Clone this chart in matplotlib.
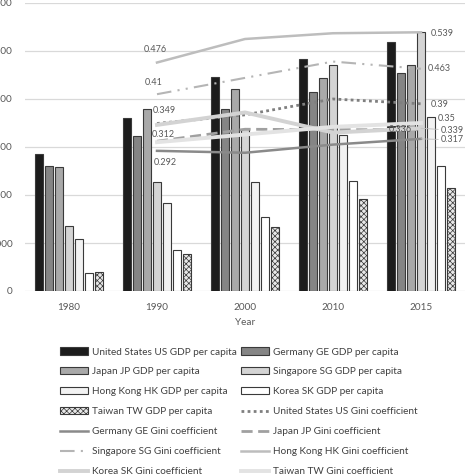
import matplotlib
matplotlib.use("Agg")
import matplotlib.pyplot as plt
import numpy as np

plt.rcParams['font.family'] = ['Lato', 'DejaVu Sans']
plt.rcParams['hatch.color'] = '#ababab'
plt.rcParams['hatch.linewidth'] = 0.5

years = ['1980', '1990', '2000', '2010', '2015']
gini_years = ['1990', '2000', '2010', '2015']

gdp_us = [28540, 36040, 44580, 48330, 51880]
gdp_ge = [26040, 32290, 37920, 41460, 45420]
gdp_jp = [25830, 37920, 42080, 44380, 47080]
gdp_sg = [13540, 22710, 33750, 47080, 53960]
gdp_hk = [10830, 18330, 22710, 32500, 36250]
gdp_sk = [3750, 8540, 15420, 22920, 26040]
gdp_tw = [3960, 7710, 13330, 19170, 21460]

gini_us = [0.349, 0.367, 0.400, 0.390]
gini_ge = [0.292, 0.288, 0.305, 0.317]
gini_jp = [0.312, 0.337, 0.336, 0.336]
gini_sg = [0.410, 0.444, 0.478, 0.463]
gini_hk = [0.476, 0.525, 0.537, 0.539]
gini_sk = [0.346, 0.372, 0.330, 0.339]
gini_tw = [0.310, 0.326, 0.342, 0.350]

W = 474
DPI = 100
fig = plt.figure(figsize=(4.74, 4.74), dpi=DPI)
renderer = fig.canvas.get_renderer()


def fit_size(s, target_px):
    t = fig.text(0, 0, s, fontsize=10)
    w = t.get_window_extent(renderer=renderer).width
    t.remove()
    return 10 * target_px / w


FS_LEG = fit_size('United States US GDP per capita', 145)
FS_TICK = fit_size('1980', 23)
FS_LAB = fit_size('0.476', 23)

ax = fig.add_axes([25 / W, 1 - 291 / W, 440 / W, 288 / W])

x = np.arange(len(years))
slot = 0.114
bw = 0.1
bar_specs = [
    (gdp_us, 'United States US GDP per capita', '#1c1c1c', None),
    (gdp_ge, 'Germany GE GDP per capita', '#858585', None),
    (gdp_jp, 'Japan JP GDP per capita', '#a9a9a9', None),
    (gdp_sg, 'Singapore SG GDP per capita', '#d4d4d4', None),
    (gdp_hk, 'Hong Kong HK GDP per capita', '#f2f2f2', None),
    (gdp_sk, 'Korea SK GDP per capita', '#ffffff', None),
    (gdp_tw, 'Taiwan TW GDP per capita', '#e8e8e8', 'xxxxxx'),
]
handles = []
for i, (vals, lab, col, hatch) in enumerate(bar_specs):
    b = ax.bar(x + (i - 3) * slot, vals, width=bw, color=col, edgecolor='#3a3a3a',
               linewidth=0.8, hatch=hatch, label=lab, zorder=2)
    handles.append(b)

ax.set_xlim(-0.5, 4.5)
ax.set_ylim(0, 60000)
ax.set_yticks(np.arange(0, 60001, 10000))
ax.set_yticklabels([str(v) for v in range(0, 60001, 10000)])
ax.yaxis.grid(True, color='#d9d9d9', linewidth=0.9, zorder=0)
ax.set_axisbelow(True)
for s in ax.spines.values():
    s.set_visible(False)
ax.tick_params(axis='both', length=0, labelsize=FS_TICK, labelcolor='#595959')
ax.tick_params(axis='y', pad=9)
ax.tick_params(axis='x', pad=9)
ax.set_xticks(x)
ax.set_xticklabels(years)
ax.set_xlabel('Year', fontsize=FS_TICK, color='#595959', labelpad=4)

ax2 = ax.twinx()
ax2.set_ylim(0, 0.6)
ax2.set_yticks([])
for s in ax2.spines.values():
    s.set_visible(False)
gx = np.arange(1, 5)
line_specs = [
    (gini_us, 'United States US Gini coefficient', '#7f7f7f', (0, (1, 1.2)), 2.0),
    (gini_ge, 'Germany GE Gini coefficient', '#8a8a8a', '-', 1.8),
    (gini_jp, 'Japan JP Gini coefficient', '#a0a0a0', (0, (4, 2)), 2.0),
    (gini_sg, 'Singapore SG Gini coefficient', '#b5b5b5', (0, (7, 3, 1, 3, 1, 3)), 1.5),
    (gini_hk, 'Hong Kong HK Gini coefficient', '#bdbdbd', '-', 1.8),
    (gini_sk, 'Korea SK Gini coefficient', '#d3d3d3', '-', 2.8),
    (gini_tw, 'Taiwan TW Gini coefficient', '#e3e3e3', '-', 2.8),
]
for vals, lab, col, ls, lw in line_specs:
    l, = ax2.plot(gx, vals, color=col, linestyle=ls, linewidth=lw, label=lab, zorder=3)
    handles.append(l)

lab_kw = dict(textcoords='offset pixels', fontsize=FS_LAB, color='#595959', va='center')
# 1990 labels
ax2.annotate('0.476', xy=(1, gini_hk[0]), xytext=(-2, 13), ha='center', **lab_kw)
ax2.annotate('0.41', xy=(1, gini_sg[0]), xytext=(-3, 12), ha='center', **lab_kw)
ax2.annotate('0.349', xy=(1, gini_us[0]), xytext=(7, 13), ha='center', **lab_kw)
ax2.annotate('0.312', xy=(1, gini_tw[0]), xytext=(6, 8), ha='center', **lab_kw)
ax2.annotate('0.292', xy=(1, gini_ge[0]), xytext=(8, -12), ha='center', **lab_kw)
# 2015 labels
ax2.annotate('0.539', xy=(4, gini_hk[3]), xytext=(10, -1), ha='left', **lab_kw)
ax2.annotate('0.463', xy=(4, gini_sg[3]), xytext=(7, 0), ha='left', **lab_kw)
ax2.annotate('0.39', xy=(4, gini_us[3]), xytext=(10, -1), ha='left', **lab_kw)
ax2.annotate('0.35', xy=(4, gini_tw[3]), xytext=(17, 5), ha='left', **lab_kw)
ax2.annotate('0.339', xy=(4, gini_sk[3]), xytext=(20, -2), ha='left', **lab_kw,
             arrowprops=dict(arrowstyle='-', color='#bfbfbf', lw=0.6, shrinkA=0, shrinkB=0))
ax2.annotate('0.317', xy=(4, gini_ge[3]), xytext=(20, -1), ha='left', **lab_kw,
             arrowprops=dict(arrowstyle='-', color='#bfbfbf', lw=0.6, shrinkA=0, shrinkB=0))
ax2.annotate('0.336', xy=(4, gini_jp[3]), xytext=(-9, 0), ha='right', **lab_kw)

fs_px = FS_LEG * DPI / 72
order = [0, 2, 4, 6, 8, 10, 12, 1, 3, 5, 7, 9, 11, 13]
leg_h = [handles[i] for i in order]
leg_l = [h.get_label() for h in leg_h]
row_h = 0.98 * fs_px - 0.8
fig.legend(leg_h, leg_l, ncol=2, loc='upper left',
           bbox_to_anchor=(60 / W, 1 - (352 - 0.5 * row_h) / W),
           frameon=False, fontsize=FS_LEG, labelcolor='#404040',
           handlelength=28 / fs_px, handletextpad=4 / fs_px,
           columnspacing=4 / fs_px, labelspacing=(20 - row_h) / fs_px,
           borderpad=0, borderaxespad=0)

fig.savefig('out.png', dpi=DPI)
